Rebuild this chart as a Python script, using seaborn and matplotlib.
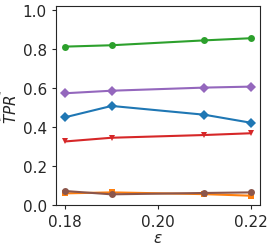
import numpy as np
import pandas as pd
import matplotlib
matplotlib.use("Agg")
import matplotlib.pyplot as plt
import seaborn as sns

eps = [0.18, 0.19, 0.21, 0.22]
blue = [0.450, 0.508, 0.463, 0.422]
orange = [0.060, 0.065, 0.056, 0.048]
green = [0.812, 0.819, 0.844, 0.855]
red = [0.326, 0.345, 0.359, 0.368]
purple = [0.573, 0.586, 0.602, 0.607]
brown = [0.072, 0.055, 0.062, 0.065]

series = {"blue": blue, "orange": orange, "green": green,
          "red": red, "purple": purple, "brown": brown}
marker_map = {"blue": "D", "orange": "s", "green": "o",
              "red": "v", "purple": "D", "brown": "o"}
color_map = {"blue": "#1f77b4", "orange": "#ff7f0e", "green": "#2ca02c",
             "red": "#d62728", "purple": "#9467bd", "brown": "#8c564b"}

rows = []
for name, vals in series.items():
    for x, y in zip(eps, vals):
        rows.append({"eps": x, "tpr": y, "method": name})
df = pd.DataFrame(rows)

sns.set_style("ticks")
fig = plt.figure(figsize=(2.74, 2.51), dpi=100)
ax = fig.add_axes([0.204, 0.179, 0.745, 0.793])

sns.lineplot(data=df, x="eps", y="tpr", hue="method", style="method",
             markers=marker_map, dashes=False, palette=color_map,
             markersize=5, markeredgewidth=0, linewidth=1.5,
             legend=False, ax=ax)

ax.set_ylim(0, 1.02)
ax.set_xticks([0.18, 0.20, 0.22])
ax.set_yticks([0.0, 0.2, 0.4, 0.6, 0.8, 1.0])
ax.tick_params(labelsize=11, length=3)
ax.set_xlabel(r"$\epsilon$", fontsize=11, labelpad=1)
ax.set_ylabel(r"$\widehat{TPR}$", fontsize=11, labelpad=2)

plt.savefig("out.png", dpi=100)
plt.close()
